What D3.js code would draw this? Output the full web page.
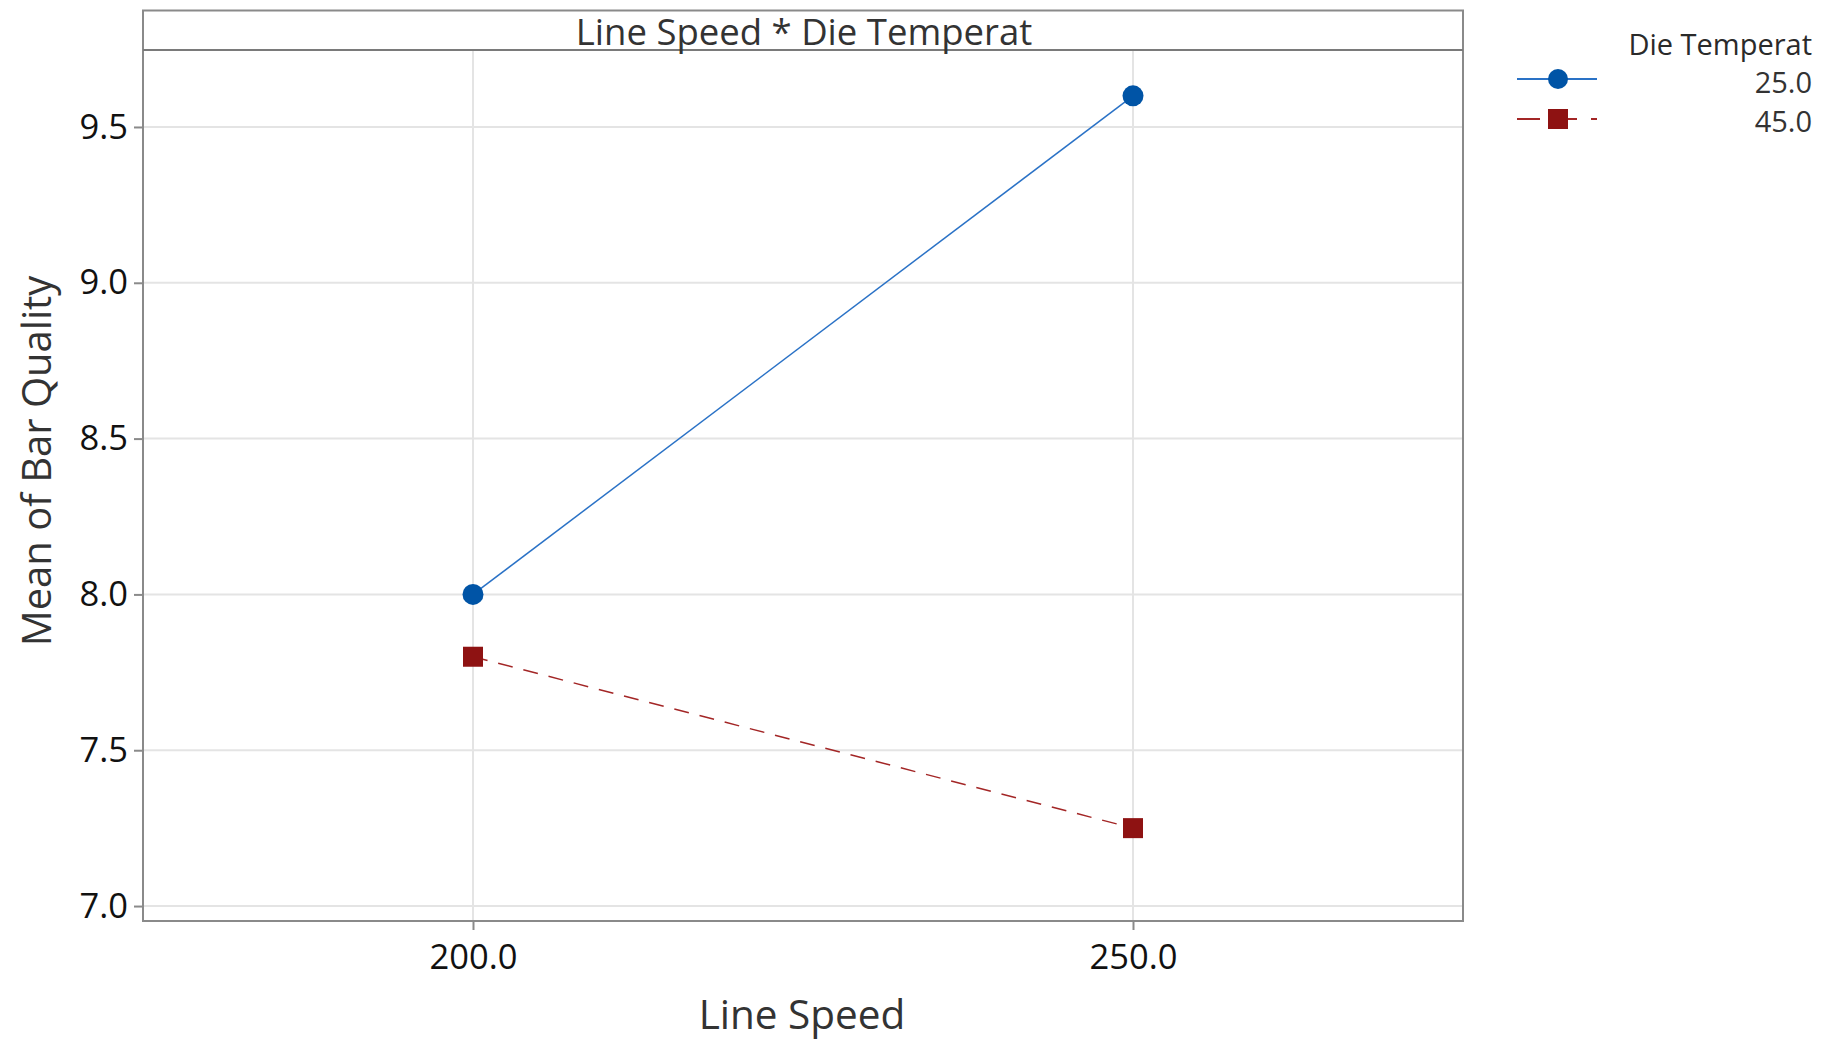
<!DOCTYPE html>
<html>
<head>
<meta charset="utf-8">
<script src="https://cdn.jsdelivr.net/npm/d3@7"></script>
<style>
  html, body { margin: 0; padding: 0; background: #fff; }
  svg { display: block; font-family: "Open Sans", "Noto Sans", sans-serif; }
</style>
</head>
<body>
<svg id="chart" width="1825" height="1041"></svg>
<script>
// ---- data ----
const lineSpeeds = [200.0, 250.0];
const dieTemps = ["25.0", "45.0"];
const meansTemp25 = [8.0, 9.6];
const meansTemp45 = [7.8, 7.25];
const yTicks = [7.0, 7.5, 8.0, 8.5, 9.0, 9.5];
const xTicks = [200.0, 250.0];
const stripTitle = "Line Speed * Die Temperat";
const xTitle = "Line Speed";
const yTitle = "Mean of Bar Quality";
const legendTitle = "Die Temperat";

const series = [
  { name: dieTemps[0], values: meansTemp25, color: "#0054a6", lineColor: "#2a72c6", shape: "circle", dash: null },
  { name: dieTemps[1], values: meansTemp45, color: "#8e1212", lineColor: "#a32626", shape: "square", dash: "15,11" }
];

// ---- layout ----
const frame = { left: 143, right: 1463, top: 10.5, stripBottom: 50, bottom: 921 };
const svg = d3.select("#chart");

const x = d3.scaleLinear().domain([175, 275]).range([frame.left, frame.right]);
const y = d3.scaleLinear().domain([6.952, 9.747]).range([frame.bottom, frame.stripBottom]);

// gridlines
const grid = svg.append("g");
grid.selectAll(".hg").data(yTicks).join("line")
  .attr("x1", frame.left).attr("x2", frame.right)
  .attr("y1", d => y(d)).attr("y2", d => y(d))
  .attr("stroke", "#e4e4e4").attr("stroke-width", 2);
grid.selectAll(".vg").data(xTicks).join("line")
  .attr("x1", d => x(d)).attr("x2", d => x(d))
  .attr("y1", frame.stripBottom).attr("y2", frame.bottom)
  .attr("stroke", "#e4e4e4").attr("stroke-width", 2);

// frame + strip
svg.append("rect")
  .attr("x", frame.left).attr("y", frame.top)
  .attr("width", frame.right - frame.left).attr("height", frame.bottom - frame.top)
  .attr("fill", "none").attr("stroke", "#8a8a8a").attr("stroke-width", 2);
svg.append("line")
  .attr("x1", frame.left).attr("x2", frame.right)
  .attr("y1", frame.stripBottom).attr("y2", frame.stripBottom)
  .attr("stroke", "#7a7a7a").attr("stroke-width", 2);
svg.append("text")
  .attr("x", 804).attr("y", 45)
  .attr("text-anchor", "middle").attr("font-size", 36.5).attr("fill", "#333")
  .text(stripTitle);

// axes
const yAxis = d3.axisLeft(y).tickValues(yTicks).tickFormat(d3.format(".1f")).tickSize(9).tickPadding(6);
const gy = svg.append("g").attr("transform", `translate(${frame.left},0)`).call(yAxis);
gy.select(".domain").remove();
gy.selectAll(".tick line").attr("stroke", "#8a8a8a").attr("stroke-width", 2);
gy.selectAll(".tick text").attr("font-size", 34.5).attr("fill", "#111")
  .attr("font-family", "'Open Sans', sans-serif");

const xAxis = d3.axisBottom(x).tickValues(xTicks).tickFormat(d3.format(".1f")).tickSize(9).tickPadding(15);
const gx = svg.append("g").attr("transform", `translate(0,${frame.bottom})`).call(xAxis);
gx.select(".domain").remove();
gx.selectAll(".tick line").attr("stroke", "#8a8a8a").attr("stroke-width", 2);
gx.selectAll(".tick text").attr("font-size", 34.5).attr("fill", "#111")
  .attr("font-family", "'Open Sans', sans-serif");

// axis titles
svg.append("text")
  .attr("x", 802).attr("y", 1029)
  .attr("text-anchor", "middle").attr("font-size", 40.5).attr("fill", "#333")
  .text(xTitle);
svg.append("text")
  .attr("transform", "translate(51,461) rotate(-90)")
  .attr("text-anchor", "middle").attr("font-size", 40).attr("fill", "#333")
  .text(yTitle);

// lines and markers
const line = d3.line().x((d, i) => x(lineSpeeds[i])).y(d => y(d));
const marks = svg.append("g");
series.forEach(s => {
  marks.append("path").datum(s.values)
    .attr("d", line).attr("fill", "none")
    .attr("stroke", s.lineColor).attr("stroke-width", 1.5)
    .attr("stroke-dasharray", s.dash);
  const pts = marks.selectAll(null).data(s.values).enter();
  if (s.shape === "circle") {
    pts.append("circle")
      .attr("cx", (d, i) => x(lineSpeeds[i])).attr("cy", d => y(d))
      .attr("r", 10.5).attr("fill", s.color);
  } else {
    pts.append("rect")
      .attr("x", (d, i) => x(lineSpeeds[i]) - 10).attr("y", d => y(d) - 10)
      .attr("width", 20).attr("height", 20).attr("fill", s.color);
  }
});

// legend
const lg = svg.append("g");
const legRight = 1812, legX1 = 1517, legX2 = 1597, legMid = 1558;
lg.append("text").attr("x", legRight).attr("y", 55)
  .attr("text-anchor", "end").attr("font-size", 29).attr("fill", "#2a2a2a")
  .attr("font-weight", 500)
  .text(legendTitle);
const legY = [79, 119];
const legTextY = [93, 132];
series.forEach((s, i) => {
  const yy = legY[i];
  lg.append("line").attr("x1", legX1).attr("x2", legX2).attr("y1", yy).attr("y2", yy)
    .attr("stroke", s.lineColor).attr("stroke-width", 2.2)
    .attr("stroke-dasharray", s.dash ? "23,8,29,14,6,100" : null);
  if (s.shape === "circle") {
    lg.append("circle").attr("cx", legMid).attr("cy", yy).attr("r", 10).attr("fill", s.color);
  } else {
    lg.append("rect").attr("x", legMid - 10).attr("y", yy - 10).attr("width", 20).attr("height", 20).attr("fill", s.color);
  }
  lg.append("text").attr("x", legRight).attr("y", legTextY[i])
    .attr("text-anchor", "end").attr("font-size", 29).attr("fill", "#333")
    .text(s.name);
});
</script>
</body>
</html>
